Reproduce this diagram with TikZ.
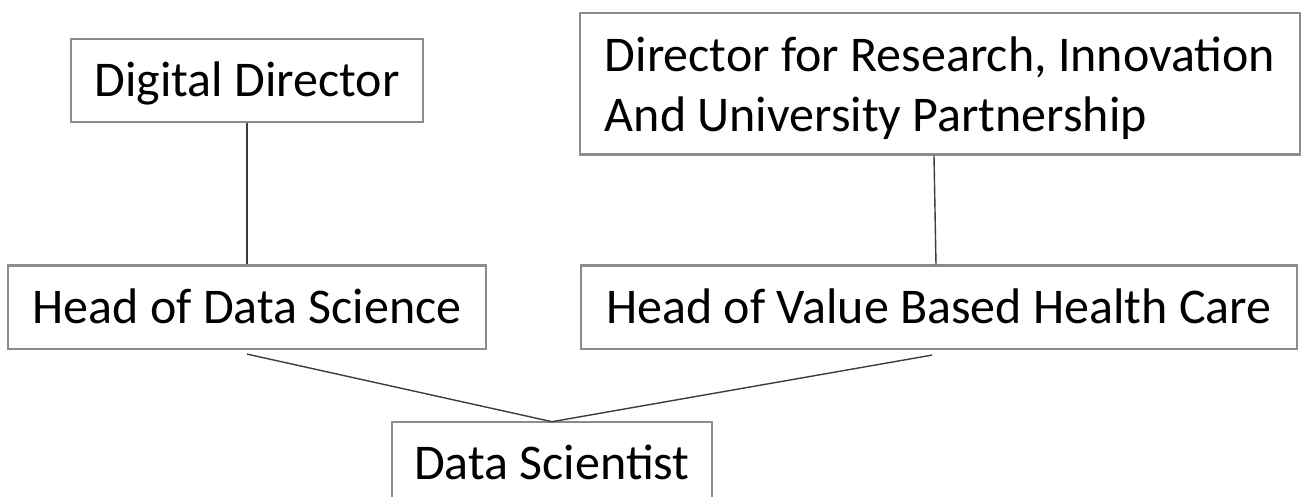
\documentclass[tikz,border=0pt]{standalone}
\usepackage{fontspec}
\setmainfont{Carlito}
\begin{document}
\begin{tikzpicture}[x=1pt,y=-1pt,
  rolebox/.style={draw=boxgray, line width=2.6pt, inner sep=0pt,
    font=\fontsize{50}{60}\selectfont, text height=32pt, text depth=0pt,
    minimum height=83pt},
  link/.style={draw=linegray, line width=1.4pt}]
  \definecolor{boxgray}{HTML}{8C8C8C}
  \definecolor{linegray}{HTML}{3C3C3C}
  \useasboundingbox (0,0) rectangle (1302,497);

  % boxes of the reporting chart
  \node[rolebox, minimum width=352pt] (dd) at (247,80.5) {Digital Director};
  \node[rolebox, minimum width=720pt, minimum height=141.5pt, align=left,
        text height=, text depth=0pt] (dir) at (940,83.75)
        {Director for Research, Innovation\\And University Partnership};
  \node[rolebox, minimum width=478pt] (hds) at (247,307.3) {Head of Data Science};
  \node[rolebox, minimum width=716pt] (hv) at (939,307.3) {Head of Value Based Health Care};
  \node[rolebox, minimum width=320pt] (ds) at (552,463.5) {Data Scientist};

  % reporting lines
  \draw[link] (dd.south) -- (hds.north);
  \draw[link] ([xshift=-6pt]dir.south) -- ([xshift=-3pt]hv.north);
  \draw[link] ([yshift=-4pt]hds.south) -- ([yshift=-1pt]ds.north);
  \draw[link] ([xshift=-7pt,yshift=-5pt]hv.south) -- ([yshift=-1pt]ds.north);
\end{tikzpicture}
\end{document}
